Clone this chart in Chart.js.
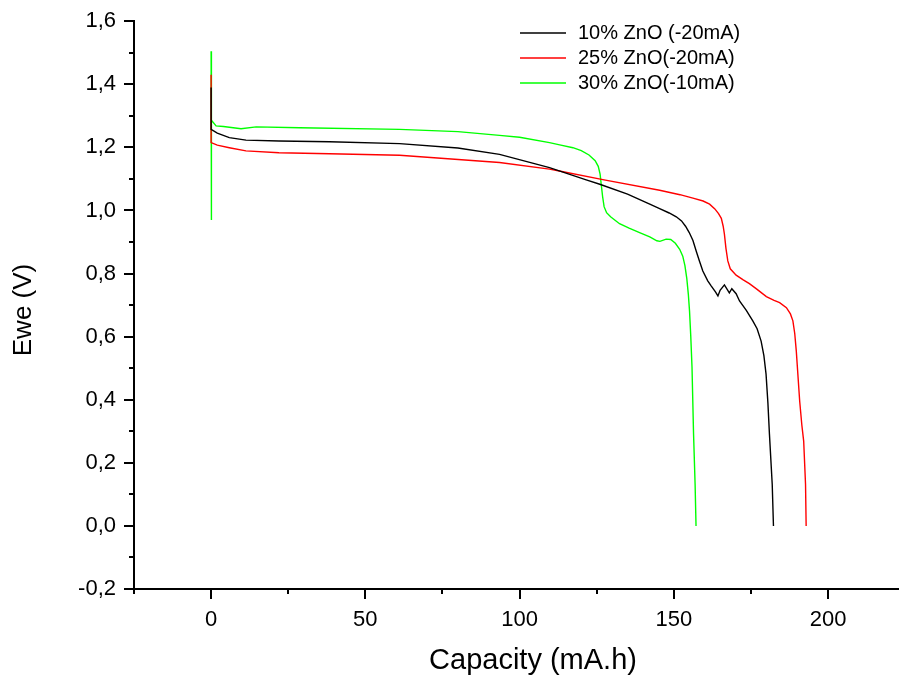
<!DOCTYPE html>
<html lang="en">
<head>
  <meta charset="UTF-8">
  <title>Ewe vs Capacity</title>
  <script src="https://cdn.jsdelivr.net/npm/chart.js"></script>
  <style>
    body { margin: 0; background: #fff; }
  </style>
</head>
<body>
  <canvas id="dischargeChart" width="899" height="680"></canvas>

  <script>
    // 10% ZnO (-20mA)
    const cap10 = [0, 0, 2, 5.9, 11.3, 22, 38.4, 61.1, 80, 93.5, 109.7, 121.6, 126, 135, 142.2, 145.4, 148.5, 150.8, 152.5, 153.8, 155, 156.2, 157.3, 158.3, 159.4, 161, 162.1, 163.5, 164.3, 165, 166.4, 168, 168.8, 170.2, 171.3, 173.5, 175.6, 177, 178.3, 179.2, 179.9, 180.5, 181, 181.9, 182.3];
    const ewe10 = [1.39, 1.257, 1.245, 1.231, 1.223, 1.220, 1.218, 1.212, 1.198, 1.178, 1.136, 1.097, 1.083, 1.052, 1.020, 1.006, 0.992, 0.980, 0.967, 0.950, 0.930, 0.905, 0.870, 0.840, 0.808, 0.777, 0.761, 0.742, 0.729, 0.747, 0.764, 0.739, 0.752, 0.736, 0.713, 0.683, 0.650, 0.625, 0.586, 0.540, 0.481, 0.390, 0.291, 0.132, 0];

    // 25% ZnO(-20mA)
    const cap25 = [0, 0, 2, 5.9, 11.3, 22, 38.4, 61.1, 93.5, 109.7, 112.9, 127.4, 145.4, 152, 156.2, 159.5, 161.6, 163.3, 164.5, 165.4, 166, 166.4, 166.9, 167.5, 168.3, 170.2, 172.5, 174.5, 177, 180, 182.5, 184.3, 186.5, 187.8, 188.6, 189.2, 189.7, 190.8, 191.5, 192.1, 192.7, 192.9];
    const ewe25 = [1.43, 1.215, 1.207, 1.199, 1.189, 1.183, 1.180, 1.175, 1.152, 1.131, 1.125, 1.097, 1.064, 1.050, 1.039, 1.030, 1.020, 1.005, 0.990, 0.975, 0.950, 0.925, 0.880, 0.840, 0.815, 0.795, 0.780, 0.768, 0.750, 0.727, 0.715, 0.708, 0.692, 0.672, 0.650, 0.610, 0.555, 0.396, 0.320, 0.269, 0.132, 0];

    // 30% ZnO(-10mA)
    const cap30 = [0, 0, 0.2, 1.6, 4, 9.7, 14.6, 28.7, 61.1, 80, 93.5, 100, 109.7, 113, 117.3, 120, 122.5, 124.5, 125.5, 126.1, 126.5, 126.9, 127.4, 128.2, 129.5, 132.4, 135.5, 138.9, 142.2, 144.5, 145.5, 147.5, 149, 150.5, 151.9, 152.9, 153.6, 154.2, 154.7, 155.1, 155.5, 155.9, 156.4, 156.9, 157.2];
    const ewe30 = [1.505, 0.97, 1.286, 1.268, 1.266, 1.259, 1.265, 1.262, 1.257, 1.250, 1.238, 1.232, 1.215, 1.208, 1.199, 1.190, 1.176, 1.158, 1.140, 1.115, 1.080, 1.045, 1.012, 0.993, 0.980, 0.958, 0.944, 0.930, 0.916, 0.904, 0.902, 0.909, 0.908, 0.896, 0.877, 0.855, 0.825, 0.785, 0.735, 0.680, 0.600, 0.502, 0.291, 0.132, 0];

    const seriesLabels = ['10% ZnO (-20mA)', '25% ZnO(-20mA)', '30% ZnO(-10mA)'];
    const seriesColors = ['#000000', '#ff0000', '#00ff00'];

    // 刻度
    const xTicks = [0, 50, 100, 150, 200];
    const xMinor = [-25, 25, 75, 125, 175];
    const yTicks = [-0.2, 0, 0.2, 0.4, 0.6, 0.8, 1.0, 1.2, 1.4, 1.6];
    const yMinor = [-0.1, 0.1, 0.3, 0.5, 0.7, 0.9, 1.1, 1.3, 1.5];

    function toPoints(xs, ys) {
      return xs.map((x, i) => ({ x: x, y: ys[i] }));
    }

    Chart.defaults.font.family = "'Liberation Sans', Arial, sans-serif";
    Chart.defaults.color = '#000';

    // 次刻度 (短)
    const minorTicks = {
      id: 'minorTicks',
      afterDraw(chart) {
        const ctx = chart.ctx;
        const xs = chart.scales.x, ys = chart.scales.y;
        ctx.save();
        ctx.strokeStyle = '#000';
        ctx.lineWidth = 2;
        xMinor.forEach(v => {
          const px = Math.round(xs.getPixelForValue(v));
          ctx.beginPath();
          ctx.moveTo(px, xs.top);
          ctx.lineTo(px, xs.top + 5);
          ctx.stroke();
        });
        yMinor.forEach(v => {
          const py = Math.round(ys.getPixelForValue(v));
          ctx.beginPath();
          ctx.moveTo(ys.right, py);
          ctx.lineTo(ys.right - 5, py);
          ctx.stroke();
        });
        ctx.restore();
      }
    };

    // 圖例與軸標題
    const labelsPlugin = {
      id: 'labelsPlugin',
      afterDraw(chart) {
        const ctx = chart.ctx;
        ctx.save();
        ctx.fillStyle = '#000';
        ctx.textBaseline = 'middle';
        ctx.font = "20px 'Liberation Sans', Arial, sans-serif";
        chart.data.datasets.forEach((ds, i) => {
          const y = 33 + i * 25;
          ctx.strokeStyle = ds.borderColor;
          ctx.lineWidth = 1.4;
          ctx.beginPath();
          ctx.moveTo(520, y);
          ctx.lineTo(566, y);
          ctx.stroke();
          ctx.fillText(ds.label, 578, y);
        });

        ctx.textAlign = 'center';
        ctx.font = "29px 'Liberation Sans', Arial, sans-serif";
        ctx.fillText('Capacity (mA.h)', 533, 661);
        ctx.font = "26px 'Liberation Sans', Arial, sans-serif";
        ctx.translate(24, 310);
        ctx.rotate(-Math.PI / 2);
        ctx.fillText('Ewe (V)', 0, 0);
        ctx.restore();
      }
    };

    const ctx = document.getElementById('dischargeChart').getContext('2d');
    new Chart(ctx, {
      type: 'scatter',
      data: {
        datasets: [
          { label: seriesLabels[0], data: toPoints(cap10, ewe10), borderColor: seriesColors[0] },
          { label: seriesLabels[1], data: toPoints(cap25, ewe25), borderColor: seriesColors[1] },
          { label: seriesLabels[2], data: toPoints(cap30, ewe30), borderColor: seriesColors[2] }
        ]
      },
      options: {
        responsive: false,
        animation: false,
        showLine: true,
        elements: {
          line: { borderWidth: 1.4, tension: 0, fill: false },
          point: { radius: 0, hoverRadius: 0 }
        },
        layout: { padding: { top: 20, right: 0, left: 0, bottom: 0 } },
        plugins: {
          legend: { display: false },
          tooltip: { enabled: false }
        },
        scales: {
          x: {
            type: 'linear',
            min: -25,
            max: 223,
            afterBuildTicks: s => { s.ticks = xTicks.map(v => ({ value: v })); },
            afterFit: s => { s.height = 91; },
            grid: { drawOnChartArea: false, tickLength: 10, color: '#000', lineWidth: 2 },
            border: { display: true, color: '#000', width: 2 },
            ticks: { font: { size: 22 }, padding: 8, maxRotation: 0 }
          },
          y: {
            type: 'linear',
            min: -0.2,
            max: 1.6,
            afterBuildTicks: s => { s.ticks = yTicks.map(v => ({ value: v })); },
            afterFit: s => { s.width = 134; },
            grid: { drawOnChartArea: false, tickLength: 10, color: '#000', lineWidth: 2 },
            border: { display: true, color: '#000', width: 2 },
            ticks: {
              font: { size: 22 },
              padding: 8,
              callback: v => v.toFixed(1).replace('.', ',')
            }
          }
        }
      },
      plugins: [minorTicks, labelsPlugin]
    });
  </script>
</body>
</html>
